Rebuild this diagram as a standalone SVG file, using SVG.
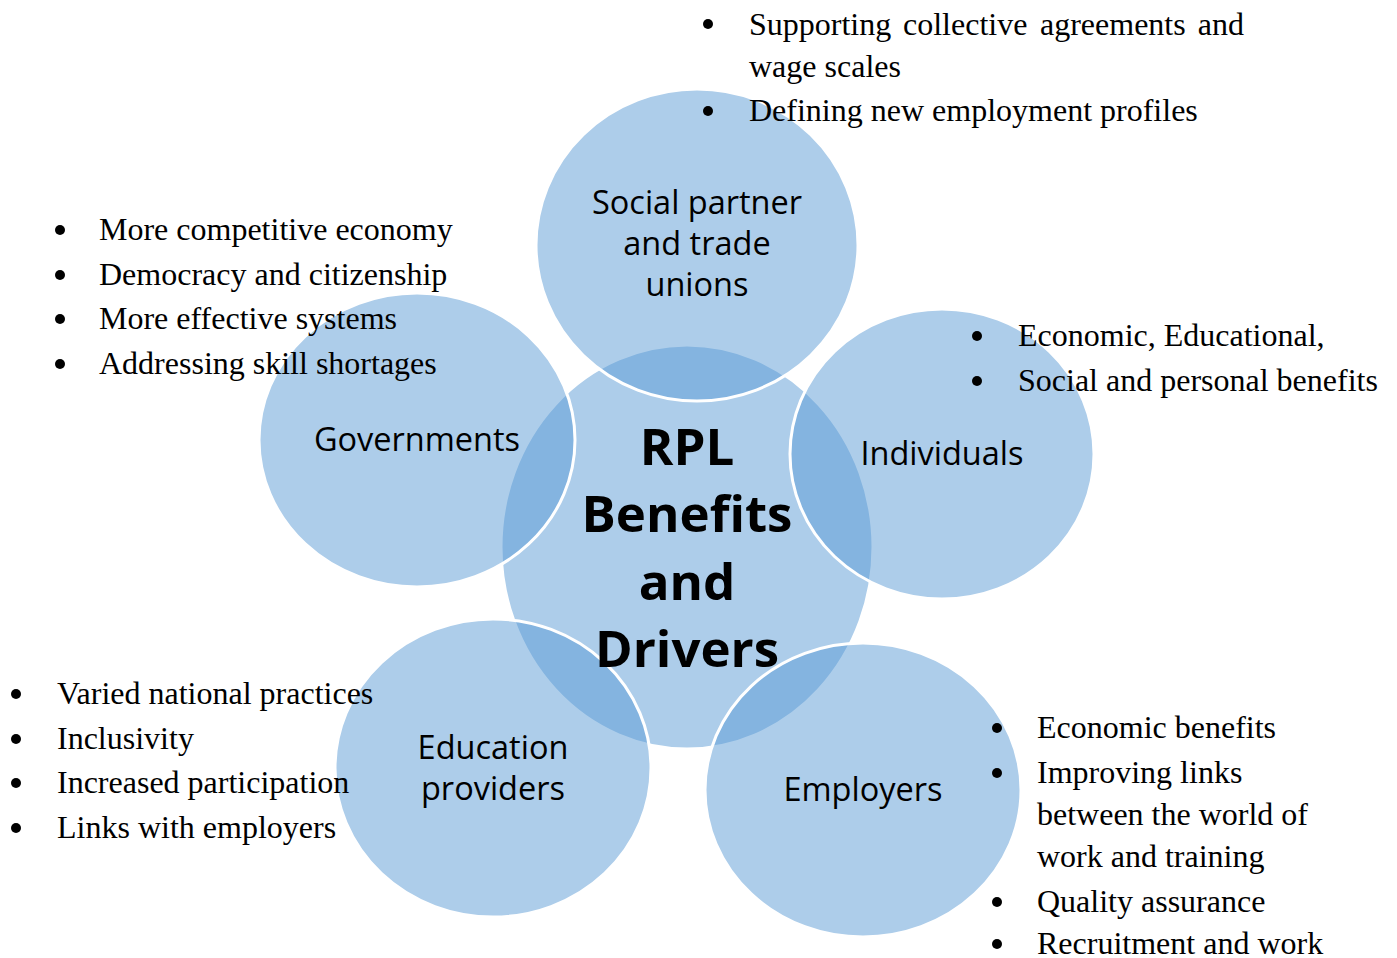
<svg xmlns="http://www.w3.org/2000/svg" width="1397" height="958" viewBox="0 0 1397 958">
  <style>
    .disc { fill: #5b9bd5; fill-opacity: 0.5; stroke: #ffffff; stroke-width: 3; }
    .lbl { font-family: "Open Sans", "Noto Sans", sans-serif; font-size: 32.5px; fill: #000; text-anchor: middle; }
    .core { font-family: "Open Sans", "Noto Sans", sans-serif; font-size: 51px; font-weight: bold; fill: #000; text-anchor: middle; }
    .note { font-family: "Liberation Serif", "Times New Roman", serif; font-size: 32px; fill: #000; }
    .dot { fill: #000; }
  </style>
  <rect width="1397" height="958" fill="#ffffff"/>

  <!-- central disc first, the satellites overlap it -->
  <g id="node-core">
    <ellipse class="disc" cx="687" cy="547" rx="186" ry="202"/>
  </g>
  <g id="node-social">
    <ellipse class="disc" cx="697" cy="245" rx="161" ry="156"/>
  </g>
  <g id="node-gov">
    <ellipse class="disc" cx="417" cy="440" rx="158" ry="147"/>
  </g>
  <g id="node-ind">
    <ellipse class="disc" cx="942" cy="454" rx="152" ry="145"/>
  </g>
  <g id="node-edu">
    <ellipse class="disc" cx="493" cy="768" rx="158" ry="149"/>
  </g>
  <g id="node-emp">
    <ellipse class="disc" cx="863" cy="790" rx="158" ry="147"/>
  </g>

  <g id="connectors"></g>

  <!-- node labels -->
  <g id="labels">
    <text class="lbl" x="697" y="214">Social partner</text>
    <text class="lbl" x="697" y="255">and trade</text>
    <text class="lbl" x="697" y="296">unions</text>
    <text class="lbl" x="417" y="451">Governments</text>
    <text class="lbl" x="942" y="465">Individuals</text>
    <text class="lbl" x="493" y="759">Education</text>
    <text class="lbl" x="493" y="800">providers</text>
    <text class="lbl" x="863" y="801">Employers</text>
    <text class="core" x="687" y="465">RPL</text>
    <text class="core" x="687" y="532">Benefits</text>
    <text class="core" x="687" y="600">and</text>
    <text class="core" x="687" y="667">Drivers</text>
  </g>

  <!-- bullet notes -->
  <g id="notes-social" class="note">
    <circle class="dot" cx="708" cy="24" r="5"/>
    <!-- justified first line: words spread evenly between 749 and 1244 -->
    <text x="749" y="35">Supporting</text>
    <text x="903" y="35">collective</text>
    <text x="1040" y="35">agreements</text>
    <text x="1244" y="35" text-anchor="end">and</text>
    <text x="749" y="77">wage scales</text>
    <circle class="dot" cx="708" cy="111" r="5"/>
    <text x="749" y="121">Defining new employment profiles</text>
  </g>
  <g id="notes-gov" class="note">
    <circle class="dot" cx="60" cy="230" r="5"/><text x="99" y="240">More competitive economy</text>
    <circle class="dot" cx="60" cy="275" r="5"/><text x="99" y="285">Democracy and citizenship</text>
    <circle class="dot" cx="60" cy="319" r="5"/><text x="99" y="329">More effective systems</text>
    <circle class="dot" cx="60" cy="364" r="5"/><text x="99" y="374">Addressing skill shortages</text>
  </g>
  <g id="notes-ind" class="note">
    <circle class="dot" cx="977" cy="336" r="5"/><text x="1018" y="346">Economic, Educational,</text>
    <circle class="dot" cx="977" cy="381" r="5"/><text x="1018" y="391">Social and personal benefits</text>
  </g>
  <g id="notes-edu" class="note">
    <circle class="dot" cx="16" cy="694" r="5"/><text x="57" y="704">Varied national practices</text>
    <circle class="dot" cx="16" cy="739" r="5"/><text x="57" y="749">Inclusivity</text>
    <circle class="dot" cx="16" cy="783" r="5"/><text x="57" y="793">Increased participation</text>
    <circle class="dot" cx="16" cy="828" r="5"/><text x="57" y="838">Links with employers</text>
  </g>
  <g id="notes-emp" class="note">
    <circle class="dot" cx="997" cy="728" r="5"/><text x="1037" y="738">Economic benefits</text>
    <circle class="dot" cx="997" cy="773" r="5"/><text x="1037" y="783">Improving links</text>
    <text x="1037" y="825">between the world of</text>
    <text x="1037" y="867">work and training</text>
    <circle class="dot" cx="997" cy="902" r="5"/><text x="1037" y="912">Quality assurance</text>
    <circle class="dot" cx="997" cy="944" r="5"/><text x="1037" y="954">Recruitment and work</text>
  </g>
</svg>
